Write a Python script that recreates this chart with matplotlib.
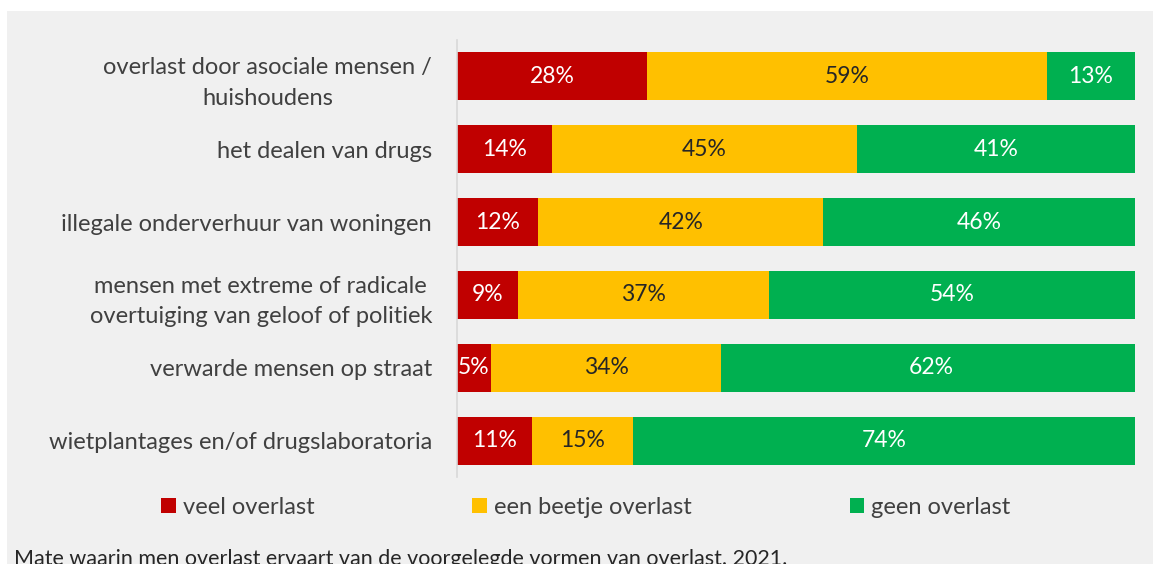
import matplotlib.pyplot as plt
from matplotlib.patches import Rectangle

# categorieën (van boven naar beneden)
categories = [
    "overlast door asociale mensen /\nhuishoudens",
    "het dealen van drugs",
    "illegale onderverhuur van woningen",
    "mensen met extreme of radicale\novertuiging van geloof of politiek",
    "verwarde mensen op straat",
    "wietplantages en/of drugslaboratoria",
]
veel = [28, 14, 12, 9, 5, 11]
beetje = [59, 45, 42, 37, 34, 15]
geen = [13, 41, 46, 54, 62, 74]
series_names = ["veel overlast", "een beetje overlast", "geen overlast"]
colors = ["#C00000", "#FFC000", "#00B050"]
text_colors = ["white", "#262626", "white"]

plt.rcParams['font.family'] = ['Lato', 'DejaVu Sans']

W, H = 1160, 564
fig = plt.figure(figsize=(W / 100, H / 100), dpi=100)
fig.patch.set_facecolor('white')
fig.patches.append(Rectangle((7 / W, 0), (1153 - 7) / W, (H - 11) / H,
                             transform=fig.transFigure, facecolor='#F0F0F0',
                             edgecolor='none', zorder=-10))

# assen: links x=457, rechts x=1135, boven y=40, onder y=477
ax = fig.add_axes([457 / W, 1 - 477 / H, (1135 - 457) / W, (477 - 40) / H])
ax.set_facecolor('none')

y = list(range(len(categories)))
left = [0] * len(categories)
for vals, name, col, tcol in zip([veel, beetje, geen], series_names, colors, text_colors):
    bars = ax.barh(y, vals, left=left, height=0.66, color=col, label=name)
    for b, v in zip(bars, vals):
        ax.text(b.get_x() + b.get_width() / 2, b.get_y() + b.get_height() / 2,
                f"{v}%", ha='center', va='center', color=tcol, fontsize=16.5)
    left = [l + v for l, v in zip(left, vals)]

ax.set_xlim(0, 100)
ax.set_ylim(len(categories) - 0.5, -0.5)
ax.set_yticks(y)
ax.set_yticklabels(categories, fontsize=17, color='#404040', ha='right',
                   multialignment='center', linespacing=1.55)
ax.tick_params(axis='y', length=0, pad=18)
ax.set_xticks([])
for s in ['top', 'right', 'bottom']:
    ax.spines[s].set_visible(False)
ax.spines['left'].set_color('#D9D9D9')
ax.spines['left'].set_linewidth(1.2)

fig.legend(loc='center', bbox_to_anchor=(0.505, 1 - 507 / H), ncol=3, frameon=False,
           fontsize=17, handlelength=0.6, handleheight=0.6, handletextpad=0.3,
           columnspacing=6.7, labelcolor='#404040')

# bijschrift valt in het origineel deels buiten beeld
fig.text(14 / W, 1 - 549 / H,
         "Mate waarin men overlast ervaart van de voorgelegde vormen van overlast. 2021.",
         ha='left', va='top', fontsize=15.5, color='#262626')

fig.savefig('out.png', dpi=100, facecolor=fig.get_facecolor())
